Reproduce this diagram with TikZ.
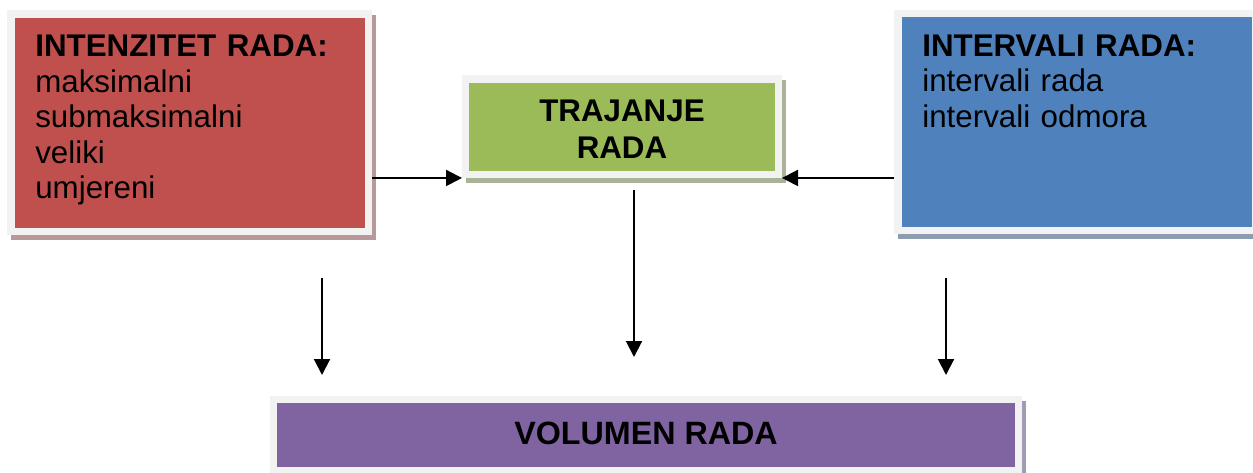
\documentclass[tikz,border=0pt]{standalone}
\usepackage{fontspec}
\setmainfont{Liberation Sans}
\usetikzlibrary{arrows.meta,shadows}

\definecolor{okvir}{HTML}{F2F2F2}
\definecolor{crvena}{HTML}{C0504D}
\definecolor{zelena}{HTML}{9BBB59}
\definecolor{plava}{HTML}{4F81BD}
\definecolor{ljubicasta}{HTML}{8064A2}
\definecolor{crvenasjena}{HTML}{B99899}
\definecolor{zelenasjena}{HTML}{A8B495}
\definecolor{plavasjena}{HTML}{8E9CB1}
\definecolor{ljubicastasjena}{HTML}{A39BB4}

\begin{document}
\begin{tikzpicture}[x=0.75pt,y=-0.75pt,
  box/.style={draw=okvir, line width=5.6pt, rectangle},
  sjena/.style={drop shadow={shadow xshift=3pt, shadow yshift=-3.4pt, fill=#1, draw=#1, opacity=1}},
  popis/.style={box, align=left, text width=231.3pt, inner xsep=18.4pt, inner ysep=15.9pt,
    text height=16.5pt, text depth=114.8pt, font=\fontsize{23.5}{26.6}\selectfont},
  naslov/.style={box, align=center, font=\bfseries\fontsize{23.5}{27.75}\selectfont},
  strelica/.style={-{Triangle[length=12pt,width=12pt]}, line width=1.5pt}]
\useasboundingbox (0,0) rectangle (1253,472);

% Define nodes
\node[popis, fill=crvena, sjena=crvenasjena] (intenzitet) at (189.5,122.5)
  {\textbf{INTENZITET RADA:}\\maksimalni\\submaksimalni\\veliki\\umjereni};
\node[popis, fill=plava, sjena=plavasjena] (intervali) at (1076.5,122)
  {\textbf{INTERVALI RADA:}\\intervali rada\\intervali odmora};
\node[naslov, fill=zelena, sjena=zelenasjena, minimum width=234.4pt, minimum height=71.6pt,
  text height=48.5pt] (trajanje) at (622,126.5) {TRAJANJE\\RADA};
\node[naslov, fill=ljubicasta, sjena=ljubicastasjena, minimum width=558.4pt, minimum height=53.25pt,
  text height=13.6pt, font=\bfseries\fontsize{24.2}{28}\selectfont] (volumen) at (646,435.25) {VOLUMEN RADA};

% Free ends of the down arrows
\coordinate (lijevo1) at (322,278);
\coordinate (lijevo2) at (322,375);
\coordinate (sredina1) at (634,190);
\coordinate (sredina2) at (634,357);
\coordinate (desno1) at (946,278);
\coordinate (desno2) at (946,375);

% Draw arrows
\draw[strelica] (intenzitet.east |- trajanje.south) -- (trajanje.south west);
\draw[strelica] (intervali.west |- trajanje.south) -- (trajanje.south east);
\draw[strelica] (lijevo1) -- (lijevo2);
\draw[strelica] (sredina1) -- (sredina2);
\draw[strelica] (desno1) -- (desno2);
\end{tikzpicture}
\end{document}
